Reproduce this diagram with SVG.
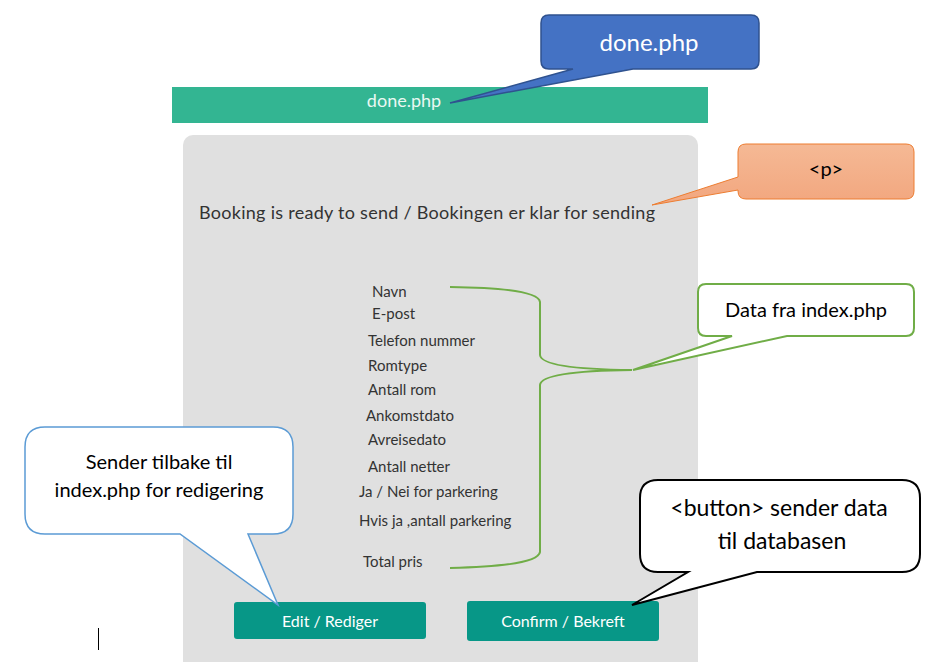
<svg xmlns="http://www.w3.org/2000/svg" width="930" height="662" viewBox="0 0 930 662">
<style>
.page{font-family:Lato,"Source Sans Pro","Liberation Sans",sans-serif;fill:#333}
.item{font-size:15px}
.call{font-family:Lato,"Liberation Sans",sans-serif;text-anchor:middle}
.btn{fill:#079787}
.btnt{font-family:Lato,"Liberation Sans",sans-serif;font-size:16px;fill:#fff;text-anchor:middle}
</style>
<defs>
<linearGradient id="og" x1="0" y1="0" x2="0" y2="1">
<stop offset="0" stop-color="#F5B995"/>
<stop offset="1" stop-color="#F2A67E"/>
</linearGradient>
</defs>
<rect width="930" height="662" fill="#fff"/>
<g id="header">
<rect x="172" y="87" width="536" height="36" fill="#33B592"/>
<text x="404" y="107" class="call" font-size="18" fill="#EAF8F2">done.php</text>
</g>
<g id="card">
<rect x="183" y="135" width="515" height="540" rx="10" fill="#E0E0E0"/>
<text x="199" y="219" class="page" font-size="18" textLength="456">Booking is ready to send / Bookingen er klar for sending</text>
</g>
<g id="fields" class="page item">
<text x="372" y="297">Navn</text>
<text x="372" y="319">E-post</text>
<text x="368" y="346">Telefon nummer</text>
<text x="368" y="371">Romtype</text>
<text x="368" y="395">Antall rom</text>
<text x="366" y="421">Ankomstdato</text>
<text x="368" y="445">Avreisedato</text>
<text x="368" y="472">Antall netter</text>
<text x="359" y="497">Ja / Nei for parkering</text>
<text x="359" y="526">Hvis ja ,antall parkering</text>
<text x="363" y="567">Total pris</text>
</g>
<g id="btn-edit">
<rect class="btn" x="234" y="602" width="192" height="37" rx="3"/>
<text class="btnt" x="330" y="627">Edit / Rediger</text>
</g>
<g id="btn-confirm">
<rect class="btn" x="467" y="601" width="192" height="40" rx="3"/>
<text class="btnt" x="563" y="627">Confirm / Bekreft</text>
</g>
<g id="connectors">
<path d="M450,287 Q538,288 540,302 L540,355 Q541,369 632,370 Q541,371 540,385 L540,552 Q538,566 450,568" fill="none" stroke="#70AD47" stroke-width="2"/>
</g>
<g id="callout-done">
<path d="M549,15 H751 Q759,15 759,23 V61 Q759,69 751,69 H633 L450,103 L573,69 H549 Q541,69 541,61 V23 Q541,15 549,15 Z" fill="#4472C4" stroke="#2F528F" stroke-width="1.5"/>
<text x="649" y="51" class="call" font-size="24" fill="#fff">done.php</text>
</g>
<g id="callout-p">
<path d="M746,144 H906 Q914,144 914,152 V191 Q914,199 906,199 H746 Q738,199 738,191 V190 L652,205 L738,177 V152 Q738,144 746,144 Z" fill="url(#og)" stroke="#ED7D31" stroke-width="1"/>
<text x="826" y="176" class="call" font-size="20" fill="#000">&lt;p&gt;</text>
</g>
<g id="callout-data">
<path d="M706,284 H906 Q914,284 914,292 V328 Q914,336 906,336 H787 L633,370 L732,336 H706 Q698,336 698,328 V292 Q698,284 706,284 Z" fill="#fff" stroke="#70AD47" stroke-width="2"/>
<text x="806" y="317" class="call" font-size="20" fill="#000">Data fra index.php</text>
</g>
<g id="callout-edit">
<path d="M45,427 H273 Q293,427 293,447 V514 Q293,534 273,534 H248 L278,605 L180,534 H45 Q25,534 25,514 V447 Q25,427 45,427 Z" fill="#fff" stroke="#5B9BD5" stroke-width="1.5"/>
<text x="159" y="469" class="call" font-size="20" fill="#000">Sender tilbake til</text>
<text x="159" y="497" class="call" font-size="20" fill="#000">index.php for redigering</text>
</g>
<g id="callout-button">
<path d="M658,480 H902 Q920,480 920,498 V554 Q920,572 902,572 H757 L632,605 L688,572 H658 Q640,572 640,554 V498 Q640,480 658,480 Z" fill="#fff" stroke="#000" stroke-width="2"/>
<text x="779" y="516" class="call" font-size="23" fill="#000">&lt;button&gt; sender data</text>
<text x="782" y="549" class="call" font-size="23" fill="#000">til databasen</text>
</g>
<line x1="98.5" y1="628" x2="98.5" y2="650" stroke="#000" stroke-width="1"/>
</svg>
